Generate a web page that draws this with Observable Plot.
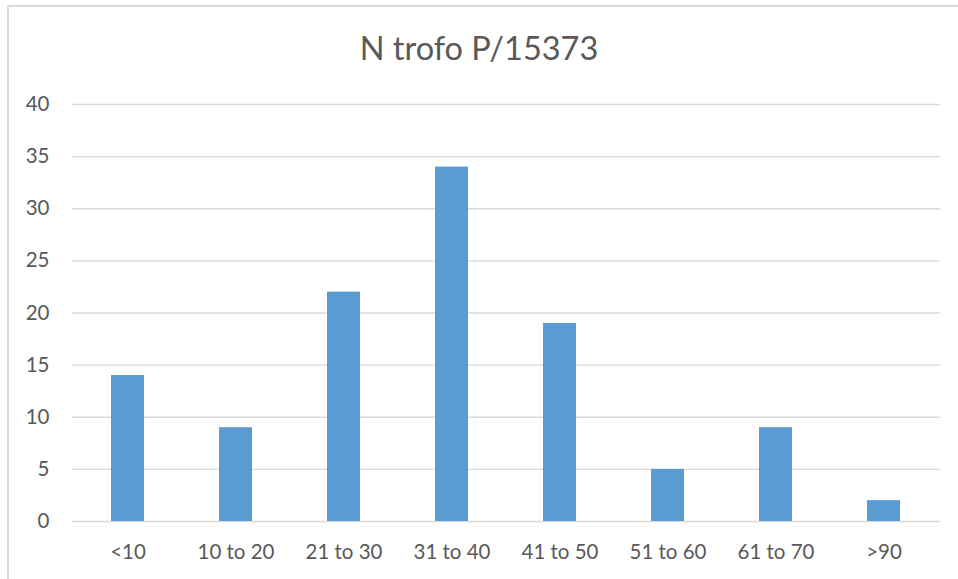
<!DOCTYPE html>
<html>
<head>
<meta charset="utf-8">
<script src="https://cdn.jsdelivr.net/npm/d3@7"></script>
<script src="https://cdn.jsdelivr.net/npm/@observablehq/plot@0.6"></script>
<style>
  html, body { margin: 0; padding: 0; background: #fff; }
  #chart { position: relative; width: 958px; height: 579px; overflow: hidden; }
  #frame { position: absolute; left: 7px; top: 5px; width: 960px; height: 600px;
           border-left: 2px solid #D9D9D9; border-top: 2px solid #D9D9D9; box-sizing: border-box; }
  #title { position: absolute; left: 0; width: 958px; top: 28px; text-align: center;
           font-family: Lato, "Open Sans", sans-serif; font-size: 32.5px; color: #595959; }
  #plot { position: absolute; left: 0; top: 0; }
</style>
</head>
<body>
<div id="chart">
  <div id="frame"></div>
  <div id="plot"></div>
  <div id="title">N trofo P/15373</div>
</div>
<script>
const categories = ["<10", "10 to 20", "21 to 30", "31 to 40", "41 to 50", "51 to 60", "61 to 70", ">90"];
const values = [14, 9, 22, 34, 19, 5, 9, 2];
const yTicks = [0, 5, 10, 15, 20, 25, 30, 35, 40];

const data = categories.map((c, i) => ({category: c, value: values[i]}));

const chart = Plot.plot({
  width: 958,
  height: 579,
  marginLeft: 72,
  marginRight: 18,
  marginTop: 104,
  marginBottom: 58,
  style: {fontFamily: "Lato, 'Open Sans', sans-serif", fontSize: "20.5px", color: "#595959", background: "transparent"},
  x: {domain: categories, paddingInner: 0.69, paddingOuter: 0.345, label: null, tickSize: 0, tickPadding: 23},
  y: {domain: [0, 40], ticks: yTicks, label: null, tickSize: 0, tickPadding: 23},
  marks: [
    Plot.ruleY(yTicks, {stroke: "#D9D9D9", strokeWidth: 1.3}),
    Plot.barY(data, {x: "category", y: "value", fill: "#5B9BD5"}),
    Plot.axisX({tickSize: 0, tickPadding: 23, fill: "#595959"}),
    Plot.axisY({ticks: yTicks, tickSize: 0, tickPadding: 23, fill: "#595959"})
  ]
});
document.getElementById("plot").appendChild(chart);
</script>
</body>
</html>
